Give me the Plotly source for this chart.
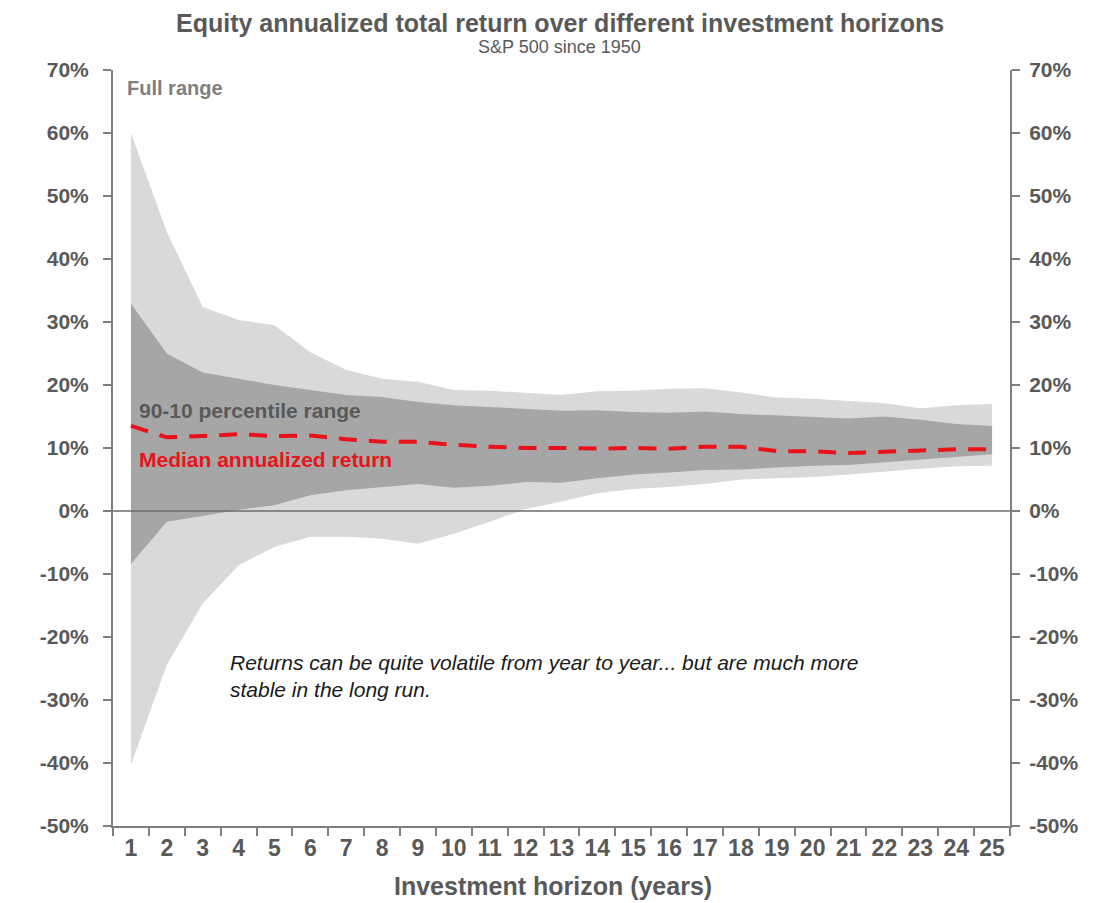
import plotly.graph_objects as go

# investment horizon in years
horizon = [str(i) for i in range(1, 26)]

# annualized total return, %
full_max = [60.0, 44.3, 32.4, 30.3, 29.5, 25.2, 22.4, 21.0, 20.5, 19.2, 19.1, 18.8, 18.4,
            19.0, 19.1, 19.4, 19.5, 18.8, 18.0, 17.8, 17.5, 17.1, 16.3, 16.8, 17.0]
full_min = [-40.3, -24.4, -14.7, -8.6, -5.7, -4.1, -4.1, -4.4, -5.2, -3.6, -1.7, 0.3, 1.5,
            2.8, 3.5, 3.8, 4.3, 5.0, 5.2, 5.4, 5.8, 6.3, 6.7, 7.1, 7.2]
pct90 = [32.9, 25.0, 22.0, 21.0, 20.0, 19.2, 18.4, 18.1, 17.3, 16.8, 16.5, 16.3, 15.9,
         16.0, 15.7, 15.6, 15.8, 15.4, 15.2, 15.0, 14.7, 15.0, 14.5, 13.8, 13.5]
pct10 = [-8.4, -1.7, -0.8, 0.2, 0.9, 2.5, 3.3, 3.8, 4.3, 3.7, 4.0, 4.6, 4.5,
         5.2, 5.8, 6.1, 6.5, 6.6, 6.9, 7.2, 7.3, 7.7, 8.1, 8.6, 9.0]
median = [13.5, 11.7, 11.9, 12.2, 11.9, 12.0, 11.4, 11.0, 11.0, 10.5, 10.2, 10.0, 10.0,
          9.9, 10.0, 9.9, 10.2, 10.2, 9.5, 9.5, 9.2, 9.4, 9.7, 9.8, 9.8]

# y ticks (plain hyphen for negatives, like the original)
y_ticks = [70, 60, 50, 40, 30, 20, 10, 0, -10, -20, -30, -40, -50]
y_labels = ['70%', '60%', '50%', '40%', '30%', '20%', '10%', '0%',
            '-10%', '-20%', '-30%', '-40%', '-50%']

LIGHT = '#d9d9d9'
DARK = '#a6a6a6'
RED = '#e8131b'
AXIS = '#7f7f7f'
TEXT = '#595959'
FONT = 'Liberation Sans Narrow, Arial Narrow, Liberation Sans, Arial'

fig = go.Figure()

# full range band
fig.add_trace(go.Scatter(x=horizon, y=full_min, mode='lines', line=dict(width=0),
                         hoverinfo='skip', showlegend=False))
fig.add_trace(go.Scatter(x=horizon, y=full_max, mode='lines', line=dict(width=0),
                         fill='tonexty', fillcolor=LIGHT, showlegend=False))

# 90-10 percentile band
fig.add_trace(go.Scatter(x=horizon, y=pct10, mode='lines', line=dict(width=0),
                         hoverinfo='skip', showlegend=False))
fig.add_trace(go.Scatter(x=horizon, y=pct90, mode='lines', line=dict(width=0),
                         fill='tonexty', fillcolor=DARK, showlegend=False))

# median
fig.add_trace(go.Scatter(x=horizon, y=median, mode='lines',
                         line=dict(color=RED, width=4, dash='18px,12px'), showlegend=False))

# dummy trace so the right axis is drawn
fig.add_trace(go.Scatter(x=horizon, y=median, mode='lines', yaxis='y2',
                         line=dict(width=0), hoverinfo='skip', showlegend=False))

# zero line drawn over the bands
fig.add_hline(y=0, line=dict(color='#6d6d6d', width=1.5), layer='above')

yax = dict(range=[-50, 70], tickvals=y_ticks, ticktext=y_labels, showgrid=False,
           zeroline=False, showline=True, linecolor=AXIS, linewidth=2, ticks='outside',
           ticklen=8, tickcolor=AXIS, tickwidth=2,
           tickfont=dict(family=FONT, size=21, color=TEXT, weight='bold'))

# the page body adds an 8px offset, margins compensate for it
fig.update_layout(
    width=1115, height=903,
    margin=dict(l=105, r=113, t=62, b=85),
    plot_bgcolor='white', paper_bgcolor='white',
    xaxis=dict(type='category', tickson='boundaries', ticks='outside', ticklen=8,
               tickcolor=AXIS, tickwidth=2, showline=True, linecolor=AXIS, linewidth=2,
               showgrid=False, range=[-0.5, 24.5],
               tickfont=dict(family=FONT, size=23, color=TEXT, weight='bold')),
    yaxis=dict(side='left', ticklabelstandoff=10, **yax),
    yaxis2=dict(side='right', overlaying='y', ticklabelstandoff=5, **yax),
)

notes = [
    dict(text='Equity annualized total return over different investment horizons',
         x=0.498, y=1.062, xanchor='center', font=dict(size=25, color=TEXT, weight='bold')),
    dict(text='S&P 500 since 1950', x=0.498, y=1.030, xanchor='center',
         font=dict(size=18, color=TEXT)),
    dict(text='Investment horizon (years)', x=0.49, y=-0.079, xanchor='center',
         font=dict(size=25, color=TEXT, weight='bold')),
    dict(text='Full range', x=0.013, y=0.976, xanchor='left',
         font=dict(size=20, color=AXIS, weight='bold')),
    dict(text='90-10 percentile range', x=0.027, y=0.550, xanchor='left',
         font=dict(size=21, color=TEXT, weight='bold')),
    dict(text='Median annualized return', x=0.027, y=0.485, xanchor='left',
         font=dict(size=21, color=RED, weight='bold')),
]
for n in notes:
    n['font'].setdefault('family', FONT)
    fig.add_annotation(xref='paper', yref='paper', yanchor='middle', showarrow=False, **n)

fig.add_annotation(
    text='<i>Returns can be quite volatile from year to year... but are much more<br>'
         'stable in the long run.</i>',
    xref='paper', yref='paper', x=0.128, y=0.198, xanchor='left', yanchor='middle',
    align='left', showarrow=False,
    font=dict(family='Liberation Sans, Arial', size=21, color='#1a1a1a'))

fig.write_html("out.html")
